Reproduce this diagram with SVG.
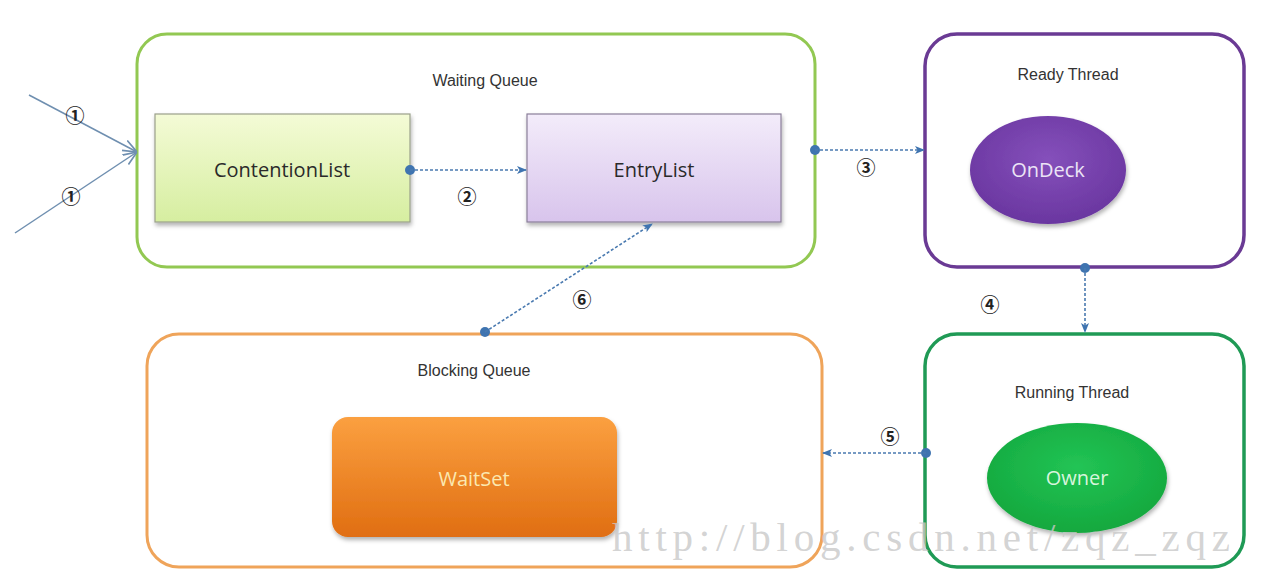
<svg xmlns="http://www.w3.org/2000/svg" width="1264" height="586" viewBox="0 0 1264 586">
<defs>
<style>
.lbl{font-family:"Liberation Sans","DejaVu Sans",sans-serif;font-size:16px;fill:#333;text-anchor:middle}
.big{font-family:"Open Sans","Liberation Sans",sans-serif;font-size:20px;text-anchor:middle}
.num{font-family:"Noto Sans CJK SC","DejaVu Sans",sans-serif;font-size:19px;font-weight:bold;fill:#222;text-anchor:middle}
.dash{stroke:#4a7ab0;stroke-width:1.6;stroke-dasharray:3,2;fill:none;marker-end:url(#ah)}
.solid{stroke:#6f8fb0;stroke-width:1.5;fill:none}
.dot{fill:#3f74b0}
.wm{font-family:"Liberation Serif",serif;font-size:41px;fill:#c8c8c8;fill-opacity:0.8}
</style>
<marker id="ah" viewBox="0 0 10 10" refX="9" refY="5" markerWidth="10" markerHeight="10" orient="auto" markerUnits="userSpaceOnUse" overflow="visible">
<path d="M0,1 L10,5 L0,9 L2.5,5 z" fill="#3f74b0"/>
</marker>
<marker id="open" viewBox="0 0 10 10" refX="10" refY="5" markerWidth="14" markerHeight="14" orient="auto" markerUnits="userSpaceOnUse">
<path d="M0,1 L10,5 L0,9" fill="none" stroke="#6f8fb0" stroke-width="1.2"/>
</marker>
<linearGradient id="gCL" x1="0" y1="0" x2="0" y2="1"><stop offset="0" stop-color="#f4fbd6"/><stop offset="1" stop-color="#d6eea0"/></linearGradient>
<linearGradient id="gEL" x1="0" y1="0" x2="0" y2="1"><stop offset="0" stop-color="#f3ecfa"/><stop offset="1" stop-color="#d8c4ec"/></linearGradient>
<linearGradient id="gWS" x1="0" y1="0" x2="0" y2="1"><stop offset="0" stop-color="#fba040"/><stop offset="1" stop-color="#e06e12"/></linearGradient>
<radialGradient id="gOD" cx="0.5" cy="0.4" r="0.6"><stop offset="0" stop-color="#8550bb"/><stop offset="1" stop-color="#6a36a0"/></radialGradient>
<radialGradient id="gOW" cx="0.5" cy="0.4" r="0.6"><stop offset="0" stop-color="#22c455"/><stop offset="1" stop-color="#14a83e"/></radialGradient>
<filter id="sh" x="-10%" y="-10%" width="130%" height="130%"><feDropShadow dx="1" dy="3" stdDeviation="2" flood-color="#000" flood-opacity="0.3"/></filter>
</defs>
<rect width="1264" height="586" fill="#ffffff"/>

<g id="waiting-queue">
<rect x="137" y="34" width="678" height="233" rx="30" fill="none" stroke="#92c852" stroke-width="3"/>
<text class="lbl" x="485" y="86">Waiting Queue</text>
</g>
<g id="contention-list">
<rect x="155" y="114" width="255" height="108" fill="url(#gCL)" stroke="#9aa08a" stroke-width="1.2" filter="url(#sh)"/>
<text class="big" x="282" y="177" fill="#2a2a2a">ContentionList</text>
</g>
<g id="entry-list">
<rect x="527" y="114" width="254" height="108" fill="url(#gEL)" stroke="#8a7f99" stroke-width="1.2" filter="url(#sh)"/>
<text class="big" x="654" y="177" fill="#2a2a2a">EntryList</text>
</g>
<g id="ready-thread">
<rect x="925" y="34" width="319" height="233" rx="32" fill="none" stroke="#6a3a94" stroke-width="3.5"/>
<text class="lbl" x="1068" y="80">Ready Thread</text>
</g>
<g id="ondeck">
<ellipse cx="1048" cy="170" rx="78" ry="54" fill="url(#gOD)" filter="url(#sh)"/>
<text class="big" x="1048" y="177" fill="#ece4f6">OnDeck</text>
</g>
<g id="running-thread">
<rect x="925" y="334" width="319" height="233" rx="32" fill="none" stroke="#1f9a55" stroke-width="3.5"/>
<text class="lbl" x="1072" y="398">Running Thread</text>
</g>
<g id="owner">
<ellipse cx="1077" cy="478" rx="90" ry="55" fill="url(#gOW)" filter="url(#sh)"/>
<text class="big" x="1077" y="485" fill="#d8f5dd">Owner</text>
</g>
<g id="blocking-queue">
<rect x="147" y="334" width="675" height="233" rx="32" fill="none" stroke="#efa45a" stroke-width="3"/>
<text class="lbl" x="474" y="376">Blocking Queue</text>
</g>
<g id="waitset">
<rect x="332" y="417" width="285" height="120" rx="16" fill="url(#gWS)" filter="url(#sh)"/>
<text class="big" x="474" y="486" fill="#fbe8b0">WaitSet</text>
</g>

<g id="connectors">
<line class="solid" x1="29" y1="95" x2="137" y2="152" marker-end="url(#open)"/>
<line class="solid" x1="15" y1="233" x2="137" y2="152" marker-end="url(#open)"/>
<circle class="dot" cx="410" cy="170" r="5"/>
<line class="dash" x1="410" y1="170" x2="526" y2="170"/>
<circle class="dot" cx="815" cy="150" r="5"/>
<line class="dash" x1="815" y1="150" x2="924" y2="150"/>
<circle class="dot" cx="1085" cy="268" r="5"/>
<line class="dash" x1="1085" y1="268" x2="1085" y2="332"/>
<circle class="dot" cx="926" cy="453" r="5"/>
<line class="dash" x1="926" y1="453" x2="823" y2="453"/>
<circle class="dot" cx="485" cy="332" r="5"/>
<line class="dash" x1="485" y1="332" x2="652" y2="224"/>
</g>

<g id="labels">
<text class="num" x="75" y="123">①</text>
<text class="num" x="71" y="204">①</text>
<text class="num" x="467" y="204">②</text>
<text class="num" x="866" y="175">③</text>
<text class="num" x="990" y="312">④</text>
<text class="num" x="890" y="444">⑤</text>
<text class="num" x="582" y="307">⑥</text>
</g>

<text class="wm" x="612" y="551" textLength="618" lengthAdjust="spacing">http://blog.csdn.net/zqz_zqz</text>
</svg>
